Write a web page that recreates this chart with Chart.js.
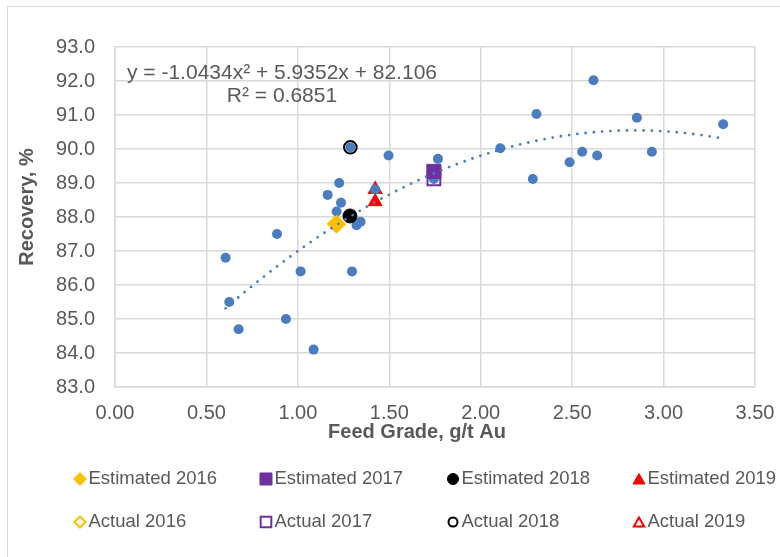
<!DOCTYPE html>
<html>
<head>
<meta charset="utf-8">
<title>Recovery vs Feed Grade</title>
<script src="https://cdn.jsdelivr.net/npm/chart.js@4/dist/chart.umd.min.js"></script>
<style>
  body { margin: 0; background: #fff; }
  canvas { display: block; }
</style>
</head>
<body>
<canvas id="grafico" width="780" height="557"></canvas>
<script>
// dados
const gradeX = [0.605, 0.625, 0.676, 0.886, 0.935, 1.015, 1.086, 1.163, 1.212, 1.226,
                1.236, 1.287, 1.296, 1.321, 1.343, 1.423, 1.496, 1.744, 1.766, 2.107,
                2.285, 2.305, 2.486, 2.555, 2.617, 2.637, 2.854, 2.936, 3.326];
const recoveryY = [86.8, 85.5, 84.7, 87.5, 85.0, 86.4, 84.1, 88.65, 88.16, 89.0,
                   88.42, 90.05, 86.4, 87.76, 87.86, 88.81, 89.81, 89.12, 89.71, 90.02,
                   89.12, 91.03, 89.61, 89.92, 92.02, 89.81, 90.92, 89.92, 90.73];

const anos = ['2016', '2017', '2018', '2019'];
const estGrade = [1.212, 1.744, 1.285, 1.423];
const estRecovery = [87.79, 89.34, 88.03, 88.45];
const actGrade = [1.21, 1.744, 1.287, 1.423];
const actRecovery = [87.80, 89.12, 90.05, 88.81];

// linha de tendência polinomial (coeficientes do rótulo)
const trendCoef = [-1.0434, 5.9352, 82.106];
const trendR2 = '0.6851';

const xTicks = [0, 0.5, 1, 1.5, 2, 2.5, 3, 3.5];
const yTicks = [83, 84, 85, 86, 87, 88, 89, 90, 91, 92, 93];

// estilos
const azul = '#4a7dc0';
const coresAno = ['#FFC000', '#7030A0', '#000000', '#FF0000'];
const formas = ['rectRot', 'rect', 'circle', 'triangle'];
const raio = { rectRot: 9, rect: 10, circle: 7, triangle: 8 };
const raioLegenda = { rectRot: 6.5, rect: 8.5, circle: 5.5, triangle: 7 };
const cinza = '#595959';
const fonte = "'Liberation Sans', Arial, sans-serif";

Chart.defaults.font.family = fonte;
Chart.defaults.color = cinza;

const datasets = [];
datasets.push({
    label: 'Recovery',
    data: gradeX.map((x, i) => ({ x: x, y: recoveryY[i] })),
    backgroundColor: azul,
    borderWidth: 0,
    pointRadius: 5,
    pointHoverRadius: 5,
    order: 1
});
anos.forEach(function(ano, i) {
    datasets.push({
        label: 'Estimated ' + ano,
        data: [{ x: estGrade[i], y: estRecovery[i] }],
        pointStyle: formas[i],
        pointRadius: raio[formas[i]],
        backgroundColor: coresAno[i],
        borderColor: coresAno[i],
        borderWidth: 1,
        order: 0
    });
    datasets.push({
        label: 'Actual ' + ano,
        data: [{ x: actGrade[i], y: actRecovery[i] }],
        pointStyle: formas[i],
        pointRadius: formas[i] === 'circle' ? 6.3 : raio[formas[i]] - 1,
        backgroundColor: '#ffffff',
        borderColor: coresAno[i],
        borderWidth: 2,
        order: 2
    });
});

// desenha moldura, tendência, equação, títulos e legenda
const extras = {
    id: 'extras',
    beforeDraw(chart) {
        const ctx = chart.ctx;
        ctx.save();
        ctx.strokeStyle = '#d9d9d9';
        ctx.lineWidth = 1;
        ctx.strokeRect(7.5, 6.5, 900, 900);
        ctx.restore();
    },
    afterDatasetsDraw(chart) {
        const ctx = chart.ctx;
        const sx = chart.scales.x;
        const sy = chart.scales.y;
        const xMin = Math.min(...gradeX);
        const xMax = Math.max(...gradeX);
        ctx.save();
        ctx.beginPath();
        for (let x = xMin; x <= xMax + 0.0001; x += 0.01) {
            const y = trendCoef[0] * x * x + trendCoef[1] * x + trendCoef[2];
            const px = sx.getPixelForValue(x);
            const py = sy.getPixelForValue(y);
            if (x === xMin) ctx.moveTo(px, py); else ctx.lineTo(px, py);
        }
        ctx.strokeStyle = azul;
        ctx.lineWidth = 2.8;
        ctx.lineCap = 'round';
        ctx.setLineDash([0, 8.3]);
        ctx.stroke();
        ctx.restore();
    },
    afterDraw(chart) {
        const ctx = chart.ctx;
        ctx.save();
        ctx.fillStyle = cinza;

        // equação
        ctx.font = '21px ' + fonte;
        ctx.textAlign = 'center';
        ctx.textBaseline = 'alphabetic';
        ctx.fillText('y = ' + trendCoef[0] + 'x\u00B2 + ' + trendCoef[1] + 'x + ' + trendCoef[2], 282, 79);
        ctx.fillText('R\u00B2 = ' + trendR2, 282, 102);

        // títulos dos eixos
        ctx.font = 'bold 20px ' + fonte;
        ctx.fillText('Feed Grade, g/t Au', 417, 438);
        ctx.save();
        ctx.translate(33, 207);
        ctx.rotate(-Math.PI / 2);
        ctx.fillText('Recovery, %', 0, 0);
        ctx.restore();

        // legenda em grade
        const colX = [80, 266, 453, 639];
        const rowY = [479, 522];
        ctx.font = '18.5px ' + fonte;
        ctx.textAlign = 'left';
        ctx.textBaseline = 'middle';
        anos.forEach(function(ano, i) {
            [0, 1].forEach(function(r) {
                const cheio = r === 0;
                ctx.fillStyle = cheio ? coresAno[i] : '#ffffff';
                ctx.strokeStyle = coresAno[i];
                ctx.lineWidth = cheio ? 1 : 2;
                let rr = raioLegenda[formas[i]];
                if (!cheio) rr -= 1;
                Chart.helpers.drawPoint(ctx, { pointStyle: formas[i], radius: rr, rotation: 0, borderWidth: ctx.lineWidth }, colX[i], rowY[r] + (formas[i] === 'triangle' ? 1.5 : 0));
                ctx.fillStyle = cinza;
                ctx.fillText((cheio ? 'Estimated ' : 'Actual ') + ano, colX[i] + 8.5, rowY[r]);
            });
        });
        ctx.restore();
    }
};

new Chart(document.getElementById('grafico').getContext('2d'), {
    type: 'scatter',
    data: { datasets: datasets },
    options: {
        responsive: false,
        animation: false,
        layout: { padding: { top: 47, right: 25, left: 0, bottom: 0 } },
        plugins: {
            legend: { display: false },
            tooltip: { enabled: false }
        },
        scales: {
            x: {
                type: 'linear',
                min: 0,
                max: 3.5,
                afterFit(scale) {
                    scale.height = 170;
                    scale.paddingLeft = 0;
                    scale.paddingRight = 0;
                },
                afterBuildTicks(scale) { scale.ticks = xTicks.map(v => ({ value: v })); },
                ticks: {
                    padding: 14,
                    font: { size: 20 },
                    color: cinza,
                    maxRotation: 0,
                    callback: v => Number(v).toFixed(2)
                },
                grid: { color: '#d9d9d9', lineWidth: 1.5, drawTicks: false },
                border: { color: '#d9d9d9', width: 1.5 }
            },
            y: {
                type: 'linear',
                min: 83,
                max: 93,
                afterFit(scale) { scale.width = 115; },
                afterBuildTicks(scale) { scale.ticks = yTicks.map(v => ({ value: v })); },
                ticks: {
                    padding: 20,
                    font: { size: 20 },
                    color: cinza,
                    callback: v => Number(v).toFixed(1)
                },
                grid: { color: '#d9d9d9', lineWidth: 1.5, drawTicks: false },
                border: { color: '#d9d9d9', width: 1.5 }
            }
        }
    },
    plugins: [extras]
});
</script>
</body>
</html>
